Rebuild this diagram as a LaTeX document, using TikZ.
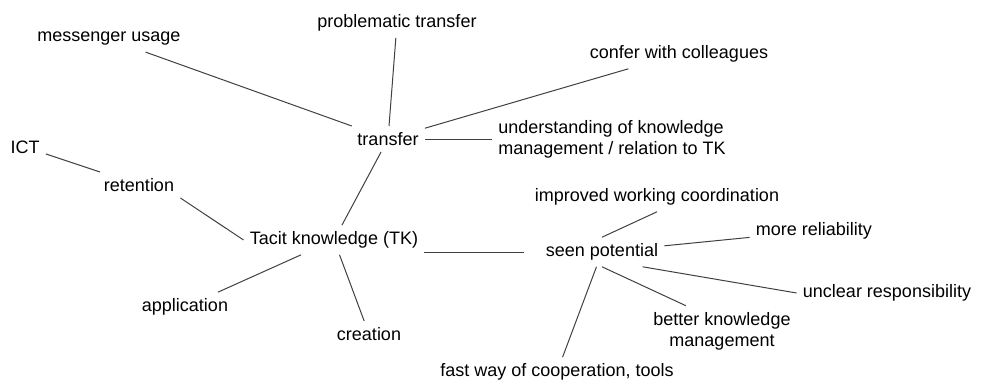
\documentclass[tikz,border=0pt]{standalone}
\usepackage{fontspec}
\setmainfont{Liberation Sans}
\begin{document}
\begin{tikzpicture}[x=0.5pt,y=-0.5pt,
   every node/.style={font=\fontsize{9}{10.5}\selectfont,inner sep=3pt},
   link/.style={draw=black!75,line width=0.5pt}]
   \useasboundingbox (0,0) rectangle (994,385);

   % 中心
   \node (tk) at (334,240) {Tacit knowledge (TK)};
   \node (transfer) at (388,139) {transfer};
   \node (retention) at (139,185) {retention};
   \node (seen) at (602,252) {seen potential};
   \node (application) at (185,307) {application};
   \node (creation) at (369,334) {creation};

   % transfer の枝
   \node (messenger) at (109,39) {messenger usage};
   \node (problematic) at (397,23) {problematic transfer};
   \node (confer) at (679,54) {confer with colleagues};
   \node[align=left] (understanding) at (612,139) {understanding of knowledge\\management / relation to TK};
   \node (ict) at (25,147) {ICT};

   % seen potential の枝
   \node (improved) at (657,197) {improved working coordination};
   \node (reliability) at (814,231) {more reliability};
   \node (unclear) at (887,293) {unclear responsibility};
   \node[align=center] (better) at (722,331) {better knowledge\\management};
   \node (fast) at (557,372) {fast way of cooperation, tools};

   % 線
   \draw[link] (tk) -- (transfer);
   \draw[link] (retention.south east) -- (tk.west);
   \draw[link] (tk) -- (application);
   \draw[link] (tk) -- (creation);
   \draw[link,shorten >=8] (tk.east |- seen.west) -- (seen.west);
   \draw[link] (ict) -- (retention);
   \draw[link] (messenger) -- (transfer);
   \draw[link] (problematic) -- (transfer);
   \draw[link] (confer) -- (transfer);
   \draw[link] (transfer) -- (understanding);
   \draw[link] (seen.north) -- (improved.south);
   \draw[link] (seen) -- (reliability);
   \draw[link] (seen.-20) -- (unclear.west);
   \draw[link] (seen.south) -- (better.145);
   \draw[link] (seen) -- (fast);

\end{tikzpicture}
\end{document}
